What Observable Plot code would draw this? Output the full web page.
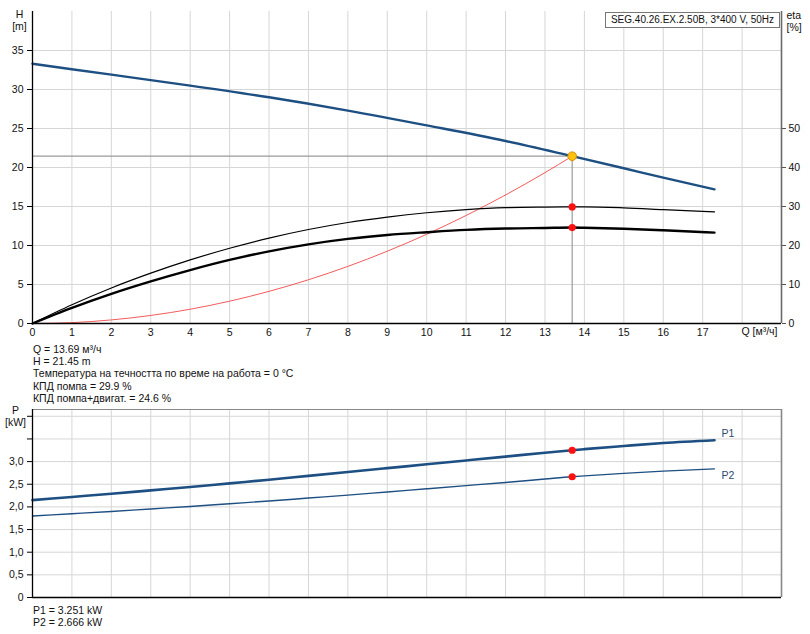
<!DOCTYPE html>
<html>
<head>
<meta charset="utf-8">
<script src="https://cdn.jsdelivr.net/npm/d3@7"></script>
<script src="https://cdn.jsdelivr.net/npm/@observablehq/plot@0.6"></script>
<style>
  html, body { margin: 0; padding: 0; background: #fff; }
  #wrap { position: relative; width: 810px; height: 634px; font-family: "Liberation Sans", Arial, sans-serif; font-size: 10.5px; color: #111; }
  #topChart { position: absolute; left: 0; top: 0; }
  #bottomChart { position: absolute; left: 0; top: 399px; }
  .info { position: absolute; left: 33px; line-height: 12.2px; white-space: nowrap; }
  #legendBox { position: absolute; left: 605px; top: 12px; width: 175px; height: 16px; border: 1px solid #777; background: #fff; text-align: center; line-height: 14px; box-sizing: border-box; white-space: nowrap; font-size: 10px; }
</style>
</head>
<body>
<div id="wrap">
  <div id="topChart"></div>
  <div id="legendBox">SEG.40.26.EX.2.50B, 3*400 V, 50Hz</div>
  <div class="info" style="top:343px">Q = 13.69 м³/ч<br>H = 21.45 m<br>Температура на течността по време на работа = 0 °C<br>КПД помпа = 29.9 %<br>КПД помпа+двигат. = 24.6 %</div>
  <div id="bottomChart"></div>
  <div class="info" style="top:604px">P1 = 3.251 kW<br>P2 = 2.666 kW</div>
</div>
<script>
// ---- data ----
const qH   = [0, 2, 4, 6, 8, 10, 12, 13.69, 15, 16, 17.3];
const head = [33.3, 31.9, 30.5, 29.0, 27.3, 25.4, 23.4, 21.45, 19.9, 18.7, 17.2];

const qEta    = [0, 1, 2, 3, 4, 5, 6, 7, 8, 9, 10, 11, 12, 13, 13.69, 14, 15, 16, 17.3];
const etaPump = [0, 4.8, 9.1, 12.9, 16.3, 19.3, 21.9, 24.1, 25.9, 27.3, 28.4, 29.2, 29.7, 29.85, 29.9, 29.9, 29.65, 29.2, 28.6];
const etaTot  = [0, 4.0, 7.6, 10.8, 13.7, 16.3, 18.5, 20.3, 21.7, 22.7, 23.4, 24.0, 24.35, 24.5, 24.6, 24.55, 24.3, 23.9, 23.3];

const qSys  = [0, 1, 2, 3, 4, 5, 6, 7, 8, 9, 10, 11, 12, 13, 13.69];
const hSys  = [0, 0.11, 0.46, 1.03, 1.83, 2.86, 4.12, 5.61, 7.32, 9.27, 11.44, 13.85, 16.48, 19.34, 21.45];

const qP = [0, 1, 2, 3, 4, 5, 6, 7, 8, 9, 10, 11, 12, 13, 13.69, 14, 15, 16, 17.3];
const p1 = [2.15, 2.22, 2.29, 2.365, 2.44, 2.52, 2.60, 2.685, 2.77, 2.855, 2.94, 3.025, 3.11, 3.195, 3.251, 3.275, 3.345, 3.41, 3.47];
const p2 = [1.80, 1.85, 1.90, 1.955, 2.01, 2.07, 2.13, 2.195, 2.26, 2.33, 2.40, 2.47, 2.54, 2.615, 2.666, 2.685, 2.74, 2.79, 2.84];

const dutyQ = 13.69, dutyH = 21.45, dutyEtaPump = 29.9, dutyEtaTot = 24.6, dutyP1 = 3.251, dutyP2 = 2.666;

const qTicks   = [0,1,2,3,4,5,6,7,8,9,10,11,12,13,14,15,16,17];
const qGrid    = [1,2,3,4,5,6,7,8,9,10,11,12,13,14,15,16,17,18];
const hTicks   = [0,5,10,15,20,25,30,35];
const hGrid    = [5,10,15,20,25,30,35];
const etaTicks = [0,10,20,30,40,50];
const pTicks   = [0,0.5,1,1.5,2,2.5,3,3.5,4];
const pLabeled = [0,0.5,1,1.5,2,2.5,3];
const pGrid    = [0.5,1,1.5,2,2.5,3,3.5,4];

// ---- tables ----
const hRows    = qH.map((q,i) => ({q, h: head[i]}));
const etaPRows = qEta.map((q,i) => ({q, e: etaPump[i]}));
const etaTRows = qEta.map((q,i) => ({q, e: etaTot[i]}));
const sysRows  = qSys.map((q,i) => ({q, h: hSys[i]}));
const p1Rows   = qP.map((q,i) => ({q, p: p1[i]}));
const p2Rows   = qP.map((q,i) => ({q, p: p2[i]}));

const blue = "#1d4f83";
const gridC = "#d6d6d6";
const font = {fontFamily: "'Liberation Sans', Arial, sans-serif", fontSize: "10.5px", color: "#111", background: "transparent", overflow: "visible"};
const crv = "monotone-x";

const topPlot = Plot.plot({
  width: 810, height: 345,
  marginLeft: 32, marginRight: 29, marginTop: 11, marginBottom: 22,
  x: {domain: [0, 19], axis: null},
  y: {domain: [0, 40], axis: null},
  style: font,
  marks: [
    Plot.ruleX(qGrid, {stroke: gridC, strokeWidth: 1}),
    Plot.ruleY(hGrid, {stroke: gridC, strokeWidth: 1}),
    Plot.ruleY([dutyH], {x1: 0, x2: dutyQ, stroke: "#9a9a9a", strokeWidth: 1.2}),
    Plot.ruleX([dutyQ], {y1: 0, y2: dutyH, stroke: "#9a9a9a", strokeWidth: 1.2}),
    Plot.line(sysRows, {x: "q", y: "h", stroke: "#f04848", strokeWidth: 0.9, curve: crv}),
    Plot.line(etaPRows, {x: "q", y: d => d.e / 2, stroke: "#000", strokeWidth: 1.2, curve: crv}),
    Plot.line(etaTRows, {x: "q", y: d => d.e / 2, stroke: "#000", strokeWidth: 2.4, curve: crv}),
    Plot.line(hRows, {x: "q", y: "h", stroke: blue, strokeWidth: 2.4, curve: crv}),
    Plot.dot([dutyEtaPump, dutyEtaTot], {x: () => dutyQ, y: d => d / 2, r: 3.6, fill: "#ff1010", stroke: "none"}),
    Plot.dot([dutyH], {x: () => dutyQ, y: d => d, r: 4.3, fill: "#ffc20e", stroke: "#e08a00", strokeWidth: 1}),
    Plot.ruleY([0], {stroke: "#000", strokeWidth: 1.3}),
    Plot.ruleX([0], {stroke: "#000", strokeWidth: 1.3}),
    Plot.ruleX([19], {stroke: "#6a6a6a", strokeWidth: 1.6}),
    Plot.axisX(qTicks, {anchor: "bottom", tickSize: 0, tickPadding: 5, label: null, fill: "#111"}),
    Plot.axisY(hTicks, {anchor: "left", tickSize: 5, tickPadding: 4, label: null, stroke: "#000", fill: "#111"}),
    Plot.axisY(etaTicks.map(e => e / 2), {anchor: "right", tickSize: 4, tickPadding: 3, tickFormat: d => d * 2, label: null, stroke: "#555", fill: "#111"}),
    Plot.text(["H\n[m]"], {frameAnchor: "top-left", dx: -13, dy: -2, textAnchor: "middle", lineAnchor: "top", lineHeight: 1.15, fill: "#111"}),
    Plot.text(["eta\n[%]"], {frameAnchor: "top-right", dx: 5, dy: -1, textAnchor: "start", lineAnchor: "top", lineHeight: 1.15, fill: "#111"}),
    Plot.text(["Q [м³/ч]"], {frameAnchor: "bottom-right", dx: -4, dy: 11, textAnchor: "end", fill: "#111"})
  ]
});
document.getElementById("topChart").appendChild(topPlot);

const bottomPlot = Plot.plot({
  width: 810, height: 206,
  marginLeft: 32, marginRight: 29, marginTop: 10, marginBottom: 8,
  x: {domain: [0, 19], axis: null},
  y: {domain: [0, 4.15], axis: null},
  style: font,
  marks: [
    Plot.ruleX(qGrid, {stroke: gridC, strokeWidth: 1}),
    Plot.ruleY(pGrid, {stroke: gridC, strokeWidth: 1}),
    Plot.line(p2Rows, {x: "q", y: "p", stroke: blue, strokeWidth: 1.4, curve: crv}),
    Plot.line(p1Rows, {x: "q", y: "p", stroke: blue, strokeWidth: 2.6, curve: crv}),
    Plot.dot([dutyP1, dutyP2], {x: () => dutyQ, y: d => d, r: 3.6, fill: "#ff1010", stroke: "none"}),
    Plot.text(p1Rows.slice(-1), {x: "q", y: "p", text: () => "P1", dx: 7, dy: -7, textAnchor: "start", fill: "#2c4a6e"}),
    Plot.text(p2Rows.slice(-1), {x: "q", y: "p", text: () => "P2", dx: 7, dy: 7, textAnchor: "start", fill: "#2c4a6e"}),
    Plot.ruleY([4.15], {stroke: "#888", strokeWidth: 1.2}),
    Plot.ruleX([19], {stroke: "#888", strokeWidth: 1.6}),
    Plot.ruleY([0], {stroke: "#000", strokeWidth: 1.3}),
    Plot.ruleX([0], {stroke: "#000", strokeWidth: 1.3}),
    Plot.axisY(pTicks, {anchor: "left", tickSize: 5, tickPadding: 4, label: null, stroke: "#000", fill: "#111",
      tickFormat: d => pLabeled.includes(d) ? (d === 0 ? "0" : d.toFixed(1).replace(".", ",")) : ""}),
    Plot.text(["P\n[kW]"], {frameAnchor: "top-left", dx: -17, dy: -4, textAnchor: "middle", lineAnchor: "top", lineHeight: 1.15, fill: "#111"})
  ]
});
document.getElementById("bottomChart").appendChild(bottomPlot);
</script>
</body>
</html>
